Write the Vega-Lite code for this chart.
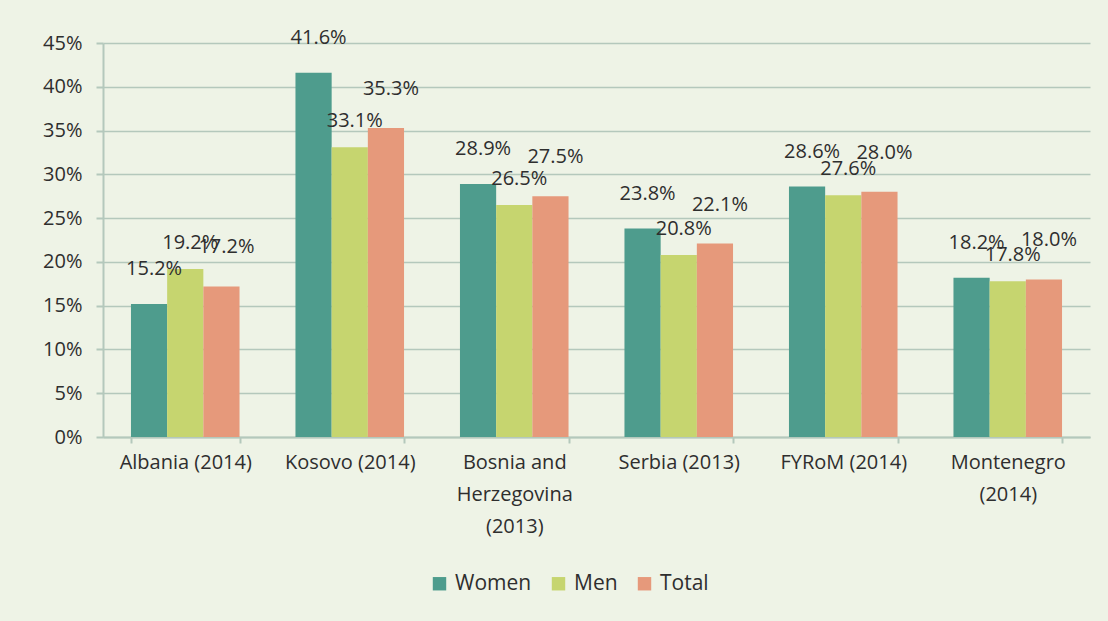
{
  "$schema": "https://vega.github.io/schema/vega-lite/v6.json",
  "width": 987,
  "height": 394,
  "autosize": {"type": "none"},
  "padding": {"left": 103, "top": 43, "right": 18, "bottom": 184},
  "background": "#eef3e6",
  "config": {
    "view": {"stroke": null},
    "font": "Open Sans",
    "axis": {"labelFont": "Open Sans", "labelColor": "#2e2e2e", "domainColor": "#b4c8bc", "domainWidth": 2, "tickColor": "#b4c8bc", "tickWidth": 2, "gridColor": "#b4c8bc", "gridWidth": 1.6},
    "legend": {"labelFont": "Open Sans", "labelFontSize": 21, "labelColor": "#2e2e2e"}
  },
  "data": {"values": [
    {"country": "Albania (2014)", "series": "Women", "value": 0.152},
    {"country": "Albania (2014)", "series": "Men", "value": 0.192},
    {"country": "Albania (2014)", "series": "Total", "value": 0.172},
    {"country": "Kosovo (2014)", "series": "Women", "value": 0.416},
    {"country": "Kosovo (2014)", "series": "Men", "value": 0.331},
    {"country": "Kosovo (2014)", "series": "Total", "value": 0.353},
    {"country": "Bosnia and Herzegovina (2013)", "series": "Women", "value": 0.289},
    {"country": "Bosnia and Herzegovina (2013)", "series": "Men", "value": 0.265},
    {"country": "Bosnia and Herzegovina (2013)", "series": "Total", "value": 0.275},
    {"country": "Serbia (2013)", "series": "Women", "value": 0.238},
    {"country": "Serbia (2013)", "series": "Men", "value": 0.208},
    {"country": "Serbia (2013)", "series": "Total", "value": 0.221},
    {"country": "FYRoM (2014)", "series": "Women", "value": 0.286},
    {"country": "FYRoM (2014)", "series": "Men", "value": 0.276},
    {"country": "FYRoM (2014)", "series": "Total", "value": 0.280},
    {"country": "Montenegro (2014)", "series": "Women", "value": 0.182},
    {"country": "Montenegro (2014)", "series": "Men", "value": 0.178},
    {"country": "Montenegro (2014)", "series": "Total", "value": 0.180}
  ]},
  "encoding": {
    "x": {
      "field": "country", "type": "nominal", "sort": null,
      "scale": {"paddingInner": 0.34, "paddingOuter": 0.17},
      "axis": {
        "title": null, "labelAngle": 0, "tickBand": "extent", "tickSize": 6, "labelPadding": 9, "labelFontSize": 20, "labelLineHeight": 32, "labelBaseline": "top",
        "labelExpr": "datum.value == 'Bosnia and Herzegovina (2013)' ? ['Bosnia and', 'Herzegovina', '(2013)'] : datum.value == 'Montenegro (2014)' ? ['Montenegro', '(2014)'] : datum.value"
      }
    },
    "xOffset": {"field": "series", "type": "nominal", "scale": {"domain": ["Women", "Men", "Total"], "paddingInner": 0, "paddingOuter": 0}},
    "y": {
      "field": "value", "type": "quantitative",
      "scale": {"domain": [0, 0.45], "nice": false},
      "axis": {"title": null, "format": ".0%", "values": [0, 0.05, 0.1, 0.15, 0.2, 0.25, 0.3, 0.35, 0.4, 0.45], "tickSize": 7, "labelPadding": 14, "labelFontSize": 20}
    }
  },
  "layer": [
    {
      "mark": {"type": "bar"},
      "encoding": {
        "color": {
          "field": "series", "type": "nominal",
          "scale": {"domain": ["Women", "Men", "Total"], "range": ["#4e9c8d", "#c6d56f", "#e6997b"]},
          "legend": {"title": null, "orient": "none", "direction": "horizontal", "legendX": 326, "legendY": 530, "symbolType": "square", "symbolSize": 180, "symbolStrokeWidth": 0, "labelOffset": 5, "columnPadding": 16}
        }
      }
    },
    {
      "transform": [{"filter": "datum.series == 'Women'"}],
      "mark": {"type": "text", "dy": -35, "dx": 5, "baseline": "middle", "fontSize": 20, "color": "#2e2e2e"},
      "encoding": {"text": {"field": "value", "type": "quantitative", "format": ".1%"}}
    },
    {
      "transform": [{"filter": "datum.series == 'Men'"}],
      "mark": {"type": "text", "dy": -26, "dx": 5, "baseline": "middle", "fontSize": 20, "color": "#2e2e2e"},
      "encoding": {"text": {"field": "value", "type": "quantitative", "format": ".1%"}}
    },
    {
      "transform": [{"filter": "datum.series == 'Total'"}],
      "mark": {"type": "text", "dy": -39, "dx": 5, "baseline": "middle", "fontSize": 20, "color": "#2e2e2e"},
      "encoding": {"text": {"field": "value", "type": "quantitative", "format": ".1%"}}
    }
  ]
}
